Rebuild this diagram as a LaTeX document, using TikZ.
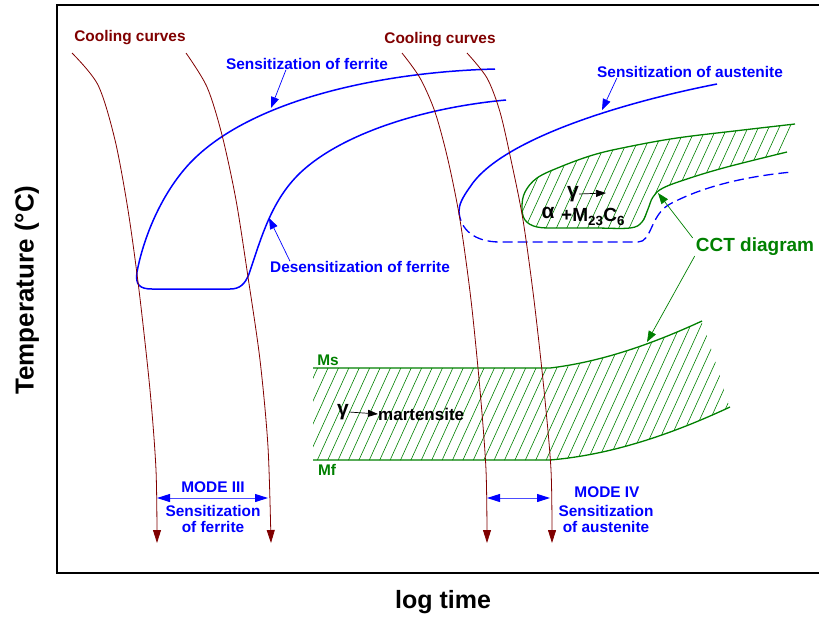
\documentclass[tikz,border=0pt]{standalone}
\usepackage{fontspec}
\setmainfont{Liberation Sans}
\usetikzlibrary{arrows.meta}

\definecolor{coolred}{RGB}{128,0,0}
\definecolor{sensblue}{RGB}{0,0,255}
\definecolor{cctgreen}{RGB}{0,128,0}

\tikzset{
  lbl/.style={font=\bfseries\fontsize{15.4}{16}\selectfont, inner sep=0pt},
  axislbl/.style={font=\bfseries\fontsize{26}{28}\selectfont, inner sep=0pt},
  coolcurve/.style={draw=coolred, line width=0.8pt, -{Triangle[length=13pt,width=8pt]}},
  sens/.style={draw=sensblue, line width=1.5pt},
  lblarrow/.style={line width=0.7pt, -{Triangle[length=11pt,width=8pt]}},
  modearrow/.style={draw=sensblue!70, line width=1pt,
    {Triangle[length=13pt,width=8pt,color=sensblue]}-{Triangle[length=13pt,width=8pt,color=sensblue]}},
  cctline/.style={draw=cctgreen, line width=1.3pt},
  hatchline/.style={draw=cctgreen, line width=0.6pt}
}

\begin{document}
\begin{tikzpicture}[x=1pt,y=-1pt]
  \useasboundingbox (0,0) rectangle (819,622);

  % frame and axis titles
  \draw[line width=1.6pt] (819,5) -- (57,5) -- (57,573) -- (819,573);
  \node[axislbl, rotate=90] (temp) at (27,290) {Temperature (°C)};
  \node[axislbl, font=\bfseries\fontsize{25}{28}\selectfont] (logt) at (443,602) {log time};

  % martensite band
  \begin{scope}
    \clip (313,368) -- (550,368) .. controls (600,362) and (650,345) .. (702,321)
      -- (730,407) .. controls (670,435) and (610,455) .. (550,460) -- (313,460) -- cycle;
    \foreach \x in {240,250.4,...,745}
      \draw[hatchline] (\x,470) -- ++(71,-156);
  \end{scope}
  \draw[cctline] (313,368) -- (550,368) .. controls (600,362) and (650,345) .. (702,321);
  \draw[cctline] (313,460) -- (550,460) .. controls (610,455) and (670,435) .. (730,407);

  % CCT nose
  \begin{scope}
    \clip plot[smooth,tension=0.6] coordinates {(795,124) (743,130) (677,138) (627,147)
      (593,155) (560,167) (537,178) (525,192) (522,207) (525,220) (537,227) (560,228)
      (595,228) (630,228) (642,222) (648,209) (653,197) (663,188) (690,178) (727,167)
      (787,152)} -- cycle;
    \foreach \x in {470,480.4,...,810}
      \draw[hatchline] (\x,235) -- ++(54,-118);
  \end{scope}
  \draw[cctline] plot[smooth,tension=0.6] coordinates {(795,124) (743,130) (677,138)
    (627,147) (593,155) (560,167) (537,178) (525,192) (522,207) (525,220) (537,227)
    (560,228) (595,228) (630,228) (642,222) (648,209) (653,197) (663,188) (690,178)
    (727,167) (787,152)};

  % ferrite C-curve
  \draw[sens] (495,69) .. controls (380,72) and (250,100) .. (190,163)
    .. controls (160,195) and (143,240) .. (137,272)
    .. controls (135,285) and (140,289) .. (152,289) -- (230,289)
    .. controls (240,289) and (245,284) .. (249,274)
    .. controls (262,235) and (272,200) .. (300,173)
    .. controls (340,135) and (420,108) .. (506,100);

  % austenite C-curve
  \draw[sens] (717,84) .. controls (620,103) and (500,140) .. (470,187)
    .. controls (462,198) and (459,205) .. (459,211);
  \draw[sens, line width=1.3pt, dash pattern=on 10pt off 5pt] (459,211)
    .. controls (460,230) and (475,242) .. (500,242) -- (638,242)
    .. controls (652,242) and (650,215) .. (670,204)
    .. controls (700,188) and (740,177) .. (792,172);

  % cooling curves
  \draw[coolcurve] plot[smooth] coordinates {(72,53) (98,85) (115,140) (128,210)
    (139,290) (150,390) (156,470) (157,543)};
  \draw[coolcurve] plot[smooth] coordinates {(186,53) (207,87) (222,135) (236,200)
    (248,277) (260,360) (268,447) (271,543)};
  \draw[coolcurve] plot[smooth] coordinates {(402,53) (420,78) (435,112) (448,160)
    (460,220) (471,300) (480,390) (486,470) (487,543)};
  \draw[coolcurve] plot[smooth] coordinates {(467,53) (487,78) (500,112) (511,160)
    (523,220) (534,300) (544,390) (551,470) (552,543)};

  % labels
  \begin{scope}[every node/.style={lbl, text=coolred}]
    \node (cool1) at (130,38) {Cooling curves};
    \node (cool2) at (440,40) {Cooling curves};
  \end{scope}

  \begin{scope}[every node/.style={lbl, text=sensblue}]
    \node (sensf)   at (307,64)  {Sensitization of ferrite};
    \node (desensf) at (360,267) {Desensitization of ferrite};
    \node (sensa)   at (690,72)  {Sensitization of austenite};
    \node (mode3)   at (213,487) {MODE III};
    \node[align=center] (mode3txt) at (213,519) {Sensitization\\of ferrite};
    \node (mode4)   at (607,492) {MODE IV};
    \node[align=center] (mode4txt) at (606,519) {Sensitization\\of austenite};
  \end{scope}

  \begin{scope}[every node/.style={lbl, text=cctgreen}]
    \node (ms) at (328,360) {Ms};
    \node (mf) at (327,470) {Mf};
    \node[font=\bfseries\fontsize{19}{20}\selectfont] (cct) at (755,247) {CCT diagram};
  \end{scope}

  \begin{scope}[every node/.style={inner sep=0pt, font=\bfseries\fontsize{17}{18}\selectfont}]
    \node[font=\bfseries\fontsize{21}{22}\selectfont] (gam1) at (343,412) {γ};
    \node[anchor=west] (mart) at (378,414) {martensite};
    \node[font=\bfseries\fontsize{21}{22}\selectfont] (gam2) at (573,194) {γ};
    \node[font=\bfseries\fontsize{21}{22}\selectfont] (alph) at (548,213) {α};
    \node[anchor=west, font=\bfseries\fontsize{19}{20}\selectfont] (carb) at (561,217)
      {+M\textsubscript{23}C\textsubscript{6}};
    \coordinate (gam2end) at (606,193);
  \end{scope}

  % coordinates on the curves
  \coordinate (sensfpt) at (271,108);
  \coordinate (desensfpt) at (269,218);
  \coordinate (sensapt) at (602,110);
  \coordinate (nosept) at (658,193);
  \coordinate (mspt) at (647,342);
  \coordinate (m3l) at (157,498);
  \coordinate (m3r) at (268,498);
  \coordinate (m4l) at (487,498);
  \coordinate (m4r) at (550,498);

  % connectors
  \draw[lblarrow, sensblue] ([xshift=60pt]sensf.south west) -- (sensfpt);
  \draw[lblarrow, sensblue] ([xshift=20pt]desensf.north west) -- (desensfpt);
  \draw[lblarrow, sensblue] ([xshift=20pt]sensa.south west) -- (sensapt);
  \draw[lblarrow, cctgreen] ([xshift=-3pt]cct.north west) -- (nosept);
  \draw[lblarrow, cctgreen] ([xshift=-1pt]cct.south west) -- (mspt);
  \draw[line width=0.7pt, -{Triangle[length=10pt,width=7pt]}] (gam1.east) -- (mart.west);
  \draw[line width=0.7pt, -{Triangle[length=10pt,width=7pt]}] (gam2.east) -- (gam2end);
  \draw[modearrow] (m3l) -- (m3r);
  \draw[modearrow] (m4l) -- (m4r);

\end{tikzpicture}
\end{document}
